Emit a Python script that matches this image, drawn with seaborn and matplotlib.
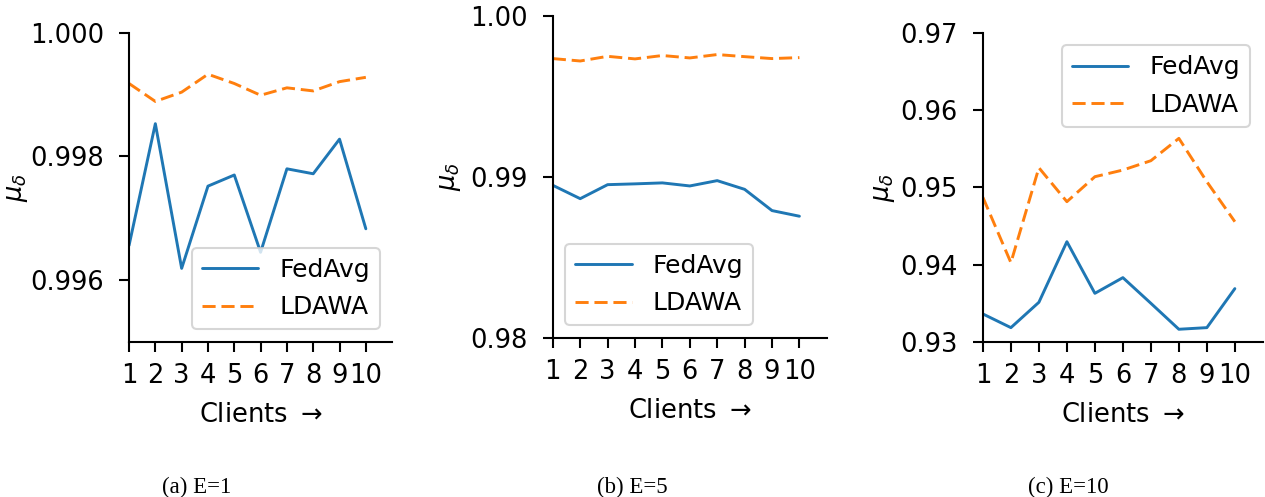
import numpy as np
import pandas as pd
import matplotlib
matplotlib.use("Agg")
import matplotlib.pyplot as plt
import seaborn as sns

# Data
clients = list(range(1, 11))

fedavg_e1 = [0.99656, 0.99853, 0.99619, 0.99752, 0.99770, 0.99645, 0.99780, 0.99772, 0.99828, 0.99683]
ldawa_e1 = [0.99918, 0.99889, 0.99904, 0.99933, 0.99918, 0.99899, 0.99911, 0.99906, 0.99921, 0.99928]

fedavg_e5 = [0.98948, 0.98865, 0.98952, 0.98957, 0.98963, 0.98944, 0.98977, 0.98923, 0.98791, 0.98756]
ldawa_e5 = [0.99735, 0.99720, 0.99749, 0.99733, 0.99754, 0.99739, 0.99760, 0.99747, 0.99735, 0.99741]

fedavg_e10 = [0.93362, 0.93185, 0.93513, 0.94297, 0.93629, 0.93832, 0.93500, 0.93164, 0.93185, 0.93690]
ldawa_e10 = [0.94871, 0.94026, 0.95254, 0.94815, 0.95138, 0.95224, 0.95345, 0.95634, 0.95073, 0.94556]

captions = ["(a) E=1", "(b) E=5", "(c) E=10"]
yticks = [[0.996, 0.998, 1.000], [0.98, 0.99, 1.00], [0.93, 0.94, 0.95, 0.96, 0.97]]
yfmt = ["{:.3f}", "{:.2f}", "{:.2f}"]
ylims = [(0.995, 1.000), (0.98, 1.00), (0.93, 0.97)]

sns.set_style("ticks")
plt.rcParams["font.family"] = "sans-serif"
plt.rcParams["font.sans-serif"] = ["DejaVu Sans"]
plt.rcParams["mathtext.fontset"] = "dejavusans"
plt.rcParams["axes.linewidth"] = 1.5
for k in ["text.color", "xtick.color", "ytick.color", "axes.edgecolor", "axes.labelcolor"]:
    plt.rcParams[k] = "black"

FS = 18.5

fig = plt.figure(figsize=(12.65, 4.97), dpi=100)

# axes rectangles (figure fraction)
rects = [
    [0.102, 0.312, 0.208, 0.622],
    [0.437, 0.320, 0.2166, 0.648],
    [0.777, 0.312, 0.2213, 0.622],
]
label_x = [-0.375, -0.328, -0.307]
legend_locs = ["lower right", "lower left", "upper right"]
cap_x = [197, 632, 1068]

series = [(fedavg_e1, ldawa_e1), (fedavg_e5, ldawa_e5), (fedavg_e10, ldawa_e10)]
blue, orange = sns.color_palette("tab10")[:2]

for i, (fed, lda) in enumerate(series):
    ax = fig.add_axes(rects[i])
    df = pd.DataFrame({"Clients": clients, "FedAvg": fed, "LDAWA": lda})
    sns.lineplot(data=df, x="Clients", y="FedAvg", ax=ax, color=blue, lw=2.1, label="FedAvg")
    sns.lineplot(data=df, x="Clients", y="LDAWA", ax=ax, color=orange, lw=2.1,
                 linestyle=(0, (4.5, 2.0)), label="LDAWA")
    ax.set_xlim(1, 11)
    ax.set_ylim(*ylims[i])
    ax.set_xticks(clients)
    ax.set_yticks(yticks[i])
    ax.set_yticklabels([yfmt[i].format(v) for v in yticks[i]])
    ax.tick_params(length=7.5, width=1.5, labelsize=FS)
    ax.tick_params(axis="y", pad=10.5)
    ax.tick_params(axis="x", pad=7.5)
    sns.despine(ax=ax)
    ax.set_xlabel("Clients $\\rightarrow$", fontsize=FS, labelpad=9.5)
    ax.set_ylabel("$\\mu_\\delta$", fontsize=FS)
    ax.yaxis.set_label_coords(label_x[i], 0.5)
    leg = ax.legend(fontsize=18, loc=legend_locs[i], handlelength=2.25,
                    handletextpad=0.85, labelspacing=0.55)
    leg.get_frame().set_linewidth(1.5)
    fig.text(cap_x[i] / 1265, 1 - 487 / 497, captions[i], ha="center", va="center",
             fontsize=16.5, family="Liberation Serif")

fig.savefig("out.png", dpi=100)
